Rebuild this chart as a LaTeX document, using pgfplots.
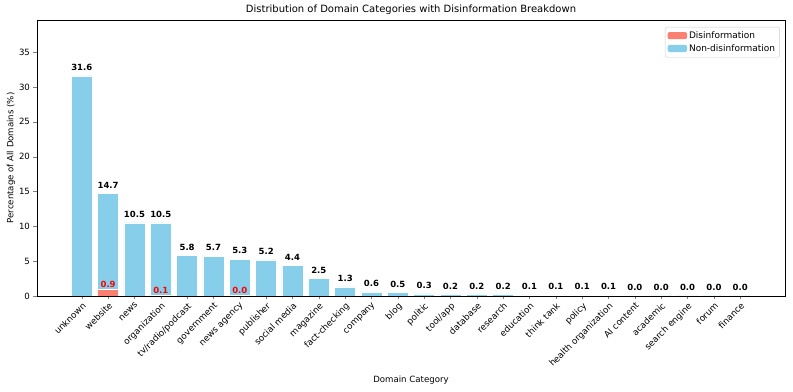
\documentclass[border=0pt]{standalone}
\usepackage{pgfplots}
\pgfplotsset{compat=1.18}
\usepackage{pgfplotstable}
\usepackage{fontspec}
\setmainfont{DejaVu Sans}
\definecolor{skyb}{RGB}{135,206,235}
\definecolor{salm}{RGB}{250,128,114}

\pgfplotstableread{
x dis non total
0 0 31.6 31.6
1 0.9 13.8 14.7
2 0 10.5 10.5
3 0.1 10.4 10.5
4 0 5.8 5.8
5 0 5.7 5.7
6 0.04 5.26 5.3
7 0 5.2 5.2
8 0 4.4 4.4
9 0 2.5 2.5
10 0 1.3 1.3
11 0 0.6 0.6
12 0 0.5 0.5
13 0 0.3 0.3
14 0 0.2 0.2
15 0 0.2 0.2
16 0 0.2 0.2
17 0 0.1 0.1
18 0 0.1 0.1
19 0 0.1 0.1
20 0 0.1 0.1
21 0 0.04 0.04
22 0 0.03 0.03
23 0 0.02 0.02
24 0 0.02 0.02
25 0 0.01 0.01
}\data

\pgfplotsset{
  common/.style={
    scale only axis,
    width=748pt, height=276pt,
    xmin=-1.7, xmax=26.7,
    ymin=0, ymax=39.6,
  }
}

\begin{document}
\begin{tikzpicture}
\begin{axis}[
  name=ax,
  common,
  ybar stacked,
  bar width=0.8,
  xlabel={Domain Category},
  ylabel={Percentage of All Domains (\%)},
  label style={font=\fontsize{8.6}{10}\selectfont},
  ylabel style={at={(axis description cs:-0.0348,0.5)}, anchor=center},
  xlabel style={at={(axis description cs:0.5,-0.3043)}, anchor=center},
  xtick={0,...,25},
  xticklabels={unknown,website,news,organization,{tv/radio/podcast},government,news agency,publisher,social media,magazine,fact-checking,company,blog,politic,{tool/app},database,research,education,think tank,policy,health organization,AI content,academic,search engine,forum,finance},
  x tick label style={rotate=45, anchor=north east, inner sep=1.5pt, font=\fontsize{8.8}{10}\selectfont},
  ytick={0,5,...,35},
  y tick label style={font=\fontsize{8.6}{10}\selectfont},
  /pgf/number format/assume math mode=true,
  tick align=outside,
  tick pos=left,
  major tick length=3.5pt,
  axis line style={black, line width=0.7pt},
  legend style={at={(0.993,0.975)}, anchor=north east, font=\fontsize{9}{10.5}\selectfont, draw=black!20, rounded corners=2pt, row sep=0.5pt, inner sep=2.5pt},
  legend cell align=left,
  legend image code/.code={\fill[#1, draw=none] (0cm,-0.12cm) rectangle (0.68cm,0.13cm);},
]
\addplot[fill=salm, draw=white, line width=0.5pt] table[x=x, y=dis] {\data};
\addlegendentry{Disinformation}
\addplot[fill=skyb, draw=white, line width=0.5pt] table[x=x, y=non] {\data};
\addlegendentry{Non-disinformation}
\end{axis}
\begin{axis}[
  common,
  hide axis,
  /pgf/number format/assume math mode=true,
  nodes near coords={\pgfmathprintnumber[fixed,fixed zerofill,precision=1]{\pgfplotspointmeta}},
  every node near coord/.append style={font=\bfseries\fontsize{8.5}{10}\selectfont, anchor=south, inner sep=2pt},
]
\addplot[draw=none, mark=none, point meta=explicit, every node near coord/.append style={yshift=3pt}] table[x=x, y=total, meta=total] {\data};
\addplot[draw=none, mark=none, point meta=explicit, every node near coord/.append style={text=red, yshift=-0.5pt}] coordinates {(1,0.9) [0.9] (3,0.1) [0.1] (6,0.04) [0.04]};
\end{axis}
\node[font=\fontsize{10}{12}\selectfont, anchor=center, inner sep=0pt] at ([yshift=10pt]ax.north) {Distribution of Domain Categories with Disinformation Breakdown};
\pgfresetboundingbox
\useasboundingbox ([xshift=-37pt,yshift=-96pt]ax.south west) rectangle ([xshift=8pt,yshift=20pt]ax.north east);
\end{tikzpicture}
\end{document}
